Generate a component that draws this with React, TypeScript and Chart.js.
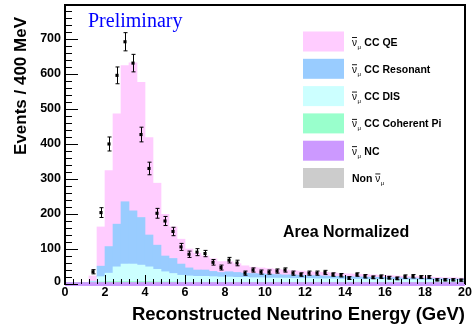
import React, { useEffect, useRef } from "react";
import { Chart, registerables } from "chart.js";

Chart.register(...registerables);

// ---- binning ----
const BIN_WIDTH = 0.4; // GeV
const N_BINS = 50;
const binCenters = Array.from({ length: N_BINS }, (_, i) => +(BIN_WIDTH / 2 + i * BIN_WIDTH).toFixed(2));

// ---- MC stack components (events / 400 MeV) ----
const ncEvents = [4,4,4,4,4,4,4,4,4,4,4,4,4,4,4,4,4,4,4,4,4,4,4,4,4,4,4,4,4,4,4,4,4,4,4,4,4,4,4,4,4,4,4,4,4,4,4,4,4,4];
const cohEvents = [0,0,0,1,2,3,3,3,3,3,3,2,2,2,1,1,1,1,1,1,1,1,1,1,1,1,1,1,1,1,1,1,1,1,1,1,1,1,1,1,1,1,1,1,1,1,1,1,1,1];
const disEvents = [0,0,0,1,15,24,42,50,50,47,42,36,29,24,20,18,17,17,16,15,15,14,14,13,13,12,12,12,11,11,11,10,10,10,9,9,9,8,8,8,8,7,7,7,7,6,6,6,6,5];
const resEvents = [0,0,0,2,30,76,122,178,152,136,91,69,45,43,32,23,18,18,15,13,15,14,12,12,11,11,10,9,10,9,8,9,8,7,8,7,6,7,6,6,5,6,5,5,4,5,4,4,3,4];
const qeEvents = [0,0,0,15,112,217,315,389,423,386,278,177,119,90,71,54,48,40,36,31,29,25,21,18,17,16,15,14,12,12,11,10,10,10,8,8,8,7,7,6,6,5,5,4,5,4,4,3,4,3];
const nonNumuEvents = [0,0,0,0,0,0,0,0,0,0,0,0,0,0,0,0,0,0,0,0,0,0,0,0,0,0,0,0,0,0,0,0,0,0,0,0,0,0,0,0,0,0,0,0,0,0,0,0,0,0];

// ---- data points ----
const dataCounts = [null,null,null,35,204,400,596,692,631,427,330,202,180,150,106,85,91,87,62,47,68,60,31,40,34,34,37,40,31,27,31,31,33,27,25,17,27,22,19,21,18,16,21,22,20,20,12,12,12,11];
const dataErrors = [0,0,0,6,14,20,24,26,25,21,18,14,13,12,10,9,10,9,8,7,8,8,6,6,6,6,6,6,6,5,6,6,6,5,5,4,5,5,4,5,4,4,5,5,4,4,3,3,3,3];

// ---- axes ----
const xTickLabels = [0, 2, 4, 6, 8, 10, 12, 14, 16, 18, 20];
const X_MINOR_STEP = 0.4;
const yTickLabels = [0, 100, 200, 300, 400, 500, 600, 700];
const Y_MINOR_STEP = 20;
const X_MIN = 0, X_MAX = 20, Y_MIN = 0, Y_MAX = 797;

// ---- legend ----
const legendNames = ["CC QE", "CC Resonant", "CC DIS", "CC Coherent Pi", "NC", "Non"];
const legendColors = ["#ffccff", "#99ccff", "#ccffff", "#99ffcc", "#cc99ff", "#cccccc"];

const SANS = '"Liberation Sans", Arial, Helvetica, sans-serif';

function toXY(vals: (number | null)[]) {
  return vals.map((v, i) => ({ x: binCenters[i], y: v }));
}

function drawNuBar(ctx: CanvasRenderingContext2D, x: number, y: number) {
  ctx.save();
  ctx.font = `10px ${SANS}`;
  ctx.textBaseline = "alphabetic";
  ctx.textAlign = "left";
  ctx.fillStyle = "#000";
  const w = ctx.measureText("\u03BD").width;
  ctx.fillText("\u03BD", x, y);
  ctx.fillRect(x, y - 8.5, w, 0.9);
  ctx.font = `6px ${SANS}`;
  ctx.fillText("\u03BC", x + w + 0.5, y + 3);
  const w2 = ctx.measureText("\u03BC").width;
  ctx.restore();
  return w + w2 + 1;
}

const overlayPlugin = {
  id: "overlay",
  afterDatasetsDraw(chart: any) {
    const ctx: CanvasRenderingContext2D = chart.ctx;
    const ys = chart.scales.y;
    const meta = chart.getDatasetMeta(0);
    ctx.save();
    ctx.strokeStyle = "#000";
    ctx.lineWidth = 1;
    meta.data.forEach((el: any, i: number) => {
      const v = dataCounts[i];
      if (v == null) return;
      const e = dataErrors[i];
      const x = Math.round(el.x) + 0.5;
      const yt = ys.getPixelForValue(v + e);
      const yb = ys.getPixelForValue(v - e);
      ctx.beginPath();
      ctx.moveTo(x, yt);
      ctx.lineTo(x, yb);
      ctx.moveTo(x - 2, yt);
      ctx.lineTo(x + 2, yt);
      ctx.moveTo(x - 2, yb);
      ctx.lineTo(x + 2, yb);
      ctx.stroke();
    });
    ctx.restore();
  },
  afterDraw(chart: any) {
    const ctx: CanvasRenderingContext2D = chart.ctx;
    const { left, right, top, bottom } = chart.chartArea;
    const xs = chart.scales.x;
    const ys = chart.scales.y;
    ctx.save();

    // frame
    ctx.strokeStyle = "#000";
    ctx.lineWidth = 2;
    ctx.beginPath();
    ctx.moveTo(left, bottom + 1);
    ctx.lineTo(left, top);
    ctx.lineTo(right, top);
    ctx.lineTo(right, bottom + 1);
    ctx.stroke();
    ctx.strokeStyle = "#cc99ff";
    ctx.beginPath();
    ctx.moveTo(left, bottom + 1);
    ctx.lineTo(right, bottom + 1);
    ctx.stroke();

    // ticks
    ctx.strokeStyle = "#000";
    ctx.lineWidth = 1;
    ctx.beginPath();
    for (let v = Y_MIN; v <= Y_MAX; v += Y_MINOR_STEP) {
      const y = Math.round(ys.getPixelForValue(v)) + 0.5;
      const major = v % 100 === 0;
      ctx.moveTo(left, y);
      ctx.lineTo(left + (major ? 13 : 7), y);
    }
    for (let k = 0; k * X_MINOR_STEP <= X_MAX + 1e-6; k++) {
      const v = k * X_MINOR_STEP;
      const x = Math.round(xs.getPixelForValue(v)) + 0.5;
      const major = Math.abs(v / 2 - Math.round(v / 2)) < 1e-6;
      ctx.moveTo(x, bottom);
      ctx.lineTo(x, bottom - (major ? 9 : 5));
    }
    ctx.stroke();

    // tick labels
    ctx.fillStyle = "#000";
    ctx.font = `bold 12.5px ${SANS}`;
    ctx.textAlign = "right";
    ctx.textBaseline = "middle";
    yTickLabels.forEach((v) => {
      const y = ys.getPixelForValue(v);
      ctx.fillText(String(v), left - 4, v === 0 ? y - 2 : y);
    });
    ctx.textAlign = "center";
    xTickLabels.forEach((v) => {
      const x = xs.getPixelForValue(v);
      ctx.fillText(String(v), x, bottom + 9);
    });

    // axis titles
    ctx.font = `bold 18.5px ${SANS}`;
    ctx.textAlign = "right";
    ctx.textBaseline = "alphabetic";
    ctx.fillText("Reconstructed Neutrino Energy (GeV)", right, bottom + 36);
    ctx.save();
    ctx.translate(26, 17);
    ctx.rotate(-Math.PI / 2);
    ctx.font = `bold 17px ${SANS}`;
    ctx.textAlign = "right";
    ctx.fillText("Events / 400 MeV", 0, 0);
    ctx.restore();

    // Preliminary
    ctx.font = `20px "Liberation Serif", "Times New Roman", serif`;
    ctx.fillStyle = "#0000ff";
    ctx.textAlign = "left";
    ctx.fillText("Preliminary", 88, 27);

    // Area Normalized
    ctx.fillStyle = "#000";
    ctx.font = `bold 16px ${SANS}`;
    ctx.fillText("Area Normalized", 283, 237);

    // legend
    const rowY0 = 41.5;
    const rowStep = 27.3;
    legendNames.forEach((name, i) => {
      const cy = rowY0 + i * rowStep;
      ctx.fillStyle = legendColors[i];
      ctx.fillRect(303, cy - 10, 41, 20);
      const baseY = cy + 4;
      ctx.fillStyle = "#000";
      ctx.font = `bold 10.5px ${SANS}`;
      ctx.textAlign = "left";
      if (name === "Non") {
        ctx.fillText("Non ", 352, baseY);
        const w = ctx.measureText("Non ").width;
        drawNuBar(ctx, 352 + w, baseY);
      } else {
        const adv = drawNuBar(ctx, 352, baseY);
        ctx.font = `bold 10.5px ${SANS}`;
        ctx.fillText(" " + name, 352 + adv, baseY);
      }
    });

    ctx.restore();
  },
};

export default function App() {
  const ref = useRef<HTMLCanvasElement | null>(null);
  useEffect(() => {
    document.body.style.margin = "0";
    const canvas = ref.current!;
    const barDefaults = {
      type: "bar" as const,
      barPercentage: 1,
      categoryPercentage: 1,
      borderWidth: 0,
      stack: "mc",
    };
    const chart = new Chart(canvas, {
      type: "bar",
      data: {
        datasets: [
          {
            type: "scatter",
            label: "Data",
            data: toXY(dataCounts),
            pointStyle: "rect",
            pointRadius: 2.2,
            pointBorderWidth: 0,
            backgroundColor: "#000",
            borderColor: "#000",
            stack: "data",
          } as any,
          { ...barDefaults, label: "NC", data: toXY(ncEvents), backgroundColor: legendColors[4] },
          { ...barDefaults, label: "Non", data: toXY(nonNumuEvents), backgroundColor: legendColors[5] },
          { ...barDefaults, label: "Coh", data: toXY(cohEvents), backgroundColor: legendColors[3] },
          { ...barDefaults, label: "DIS", data: toXY(disEvents), backgroundColor: legendColors[2] },
          { ...barDefaults, label: "RES", data: toXY(resEvents), backgroundColor: legendColors[1] },
          { ...barDefaults, label: "QE", data: toXY(qeEvents), backgroundColor: legendColors[0] },
        ],
      },
      options: {
        responsive: false,
        maintainAspectRatio: false,
        devicePixelRatio: 1,
        animation: false,
        layout: { padding: { left: 65, right: 7, top: 5, bottom: 47 } },
        plugins: { legend: { display: false }, tooltip: { enabled: false } },
        scales: {
          x: { type: "linear", min: X_MIN, max: X_MAX, display: false, offset: false, stacked: true },
          y: { type: "linear", min: Y_MIN, max: Y_MAX, display: false, stacked: true },
        },
      },
      plugins: [overlayPlugin],
    } as any);
    return () => chart.destroy();
  }, []);
  return (
    <div style={{ width: 472, height: 331 }}>
      <canvas ref={ref} width={472} height={331} style={{ display: "block" }} />
    </div>
  );
}
